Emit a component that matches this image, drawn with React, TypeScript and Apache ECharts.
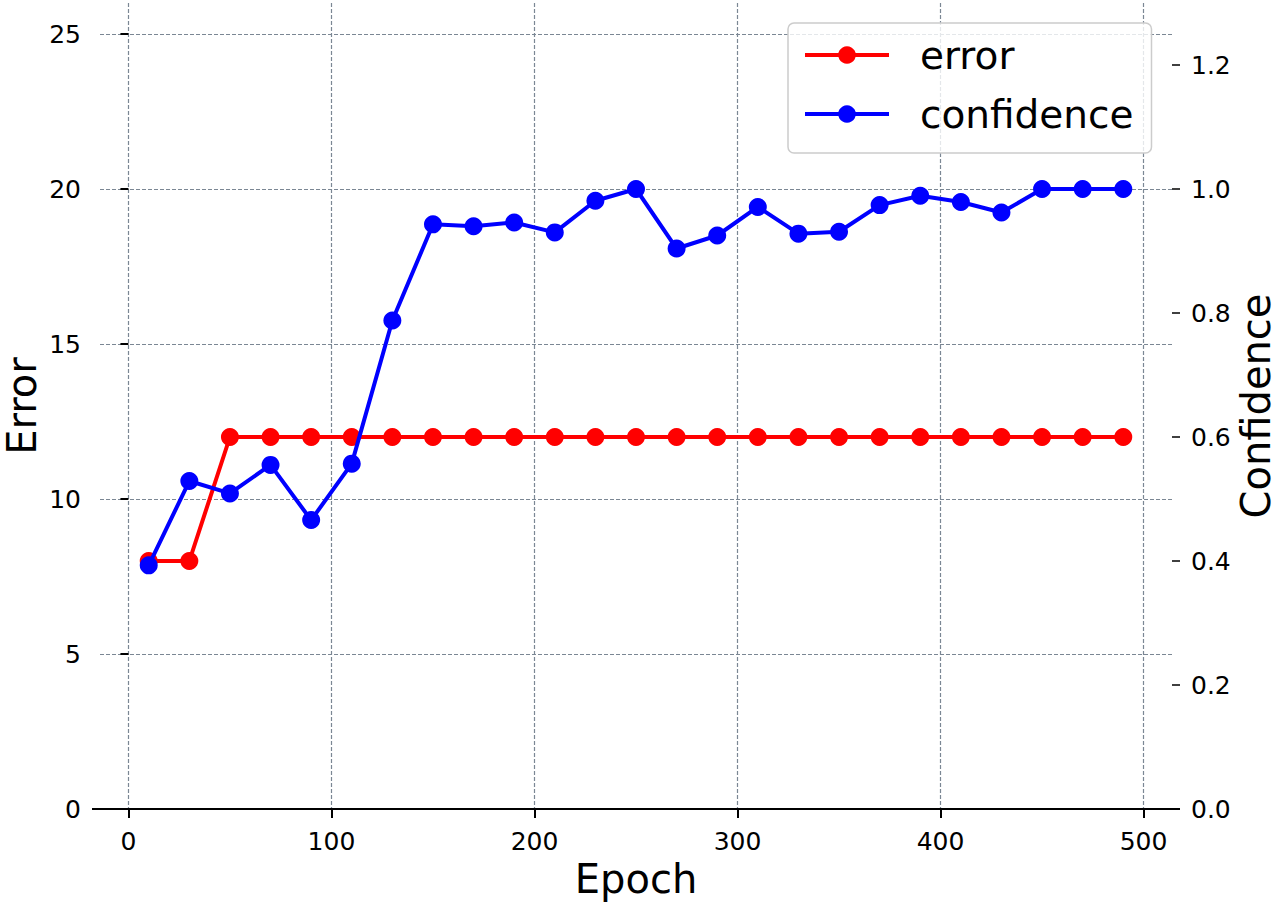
import React, { useEffect, useRef } from "react";
import * as echarts from "echarts";

const epochs = [10, 30, 50, 70, 90, 110, 130, 150, 170, 190, 210, 230, 250, 270, 290, 310, 330, 350, 370, 390, 410, 430, 450, 470, 490];
const errorValues = [8, 8, 12, 12, 12, 12, 12, 12, 12, 12, 12, 12, 12, 12, 12, 12, 12, 12, 12, 12, 12, 12, 12, 12, 12];
const confidenceValues = [0.393, 0.529, 0.509, 0.555, 0.466, 0.557, 0.788, 0.943, 0.940, 0.946, 0.930, 0.981, 1.0, 0.904, 0.925, 0.971, 0.928, 0.931, 0.974, 0.989, 0.979, 0.962, 1.0, 1.0, 1.0];
const xTicks = [0, 100, 200, 300, 400, 500];
const errorTicks = [0, 5, 10, 15, 20, 25];
const confidenceTicks = [0, 0.2, 0.4, 0.6, 0.8, 1.0, 1.2];

const FONT = "DejaVu Sans";
const GRID_COLOR = "#7b8794";

export default function App() {
  const ref = useRef<HTMLDivElement>(null);
  useEffect(() => {
    if (!ref.current) return;
    const chart = echarts.init(ref.current, undefined, { renderer: "svg" });
    const errorData = epochs.map((e, i) => [e, errorValues[i]]);
    const confData = epochs.map((e, i) => [e, confidenceValues[i]]);
    chart.setOption({
      animation: false,
      backgroundColor: "#ffffff",
      textStyle: { fontFamily: FONT },
      grid: { left: 100, right: 108, top: 3, bottom: 99, containLabel: false, outerBoundsMode: "none" },
      legend: {
        orient: "vertical",
        left: 788,
        top: 23,
        padding: [12, 18, 19, 15],
        itemWidth: 84,
        itemHeight: 22,
        itemGap: 19,
        backgroundColor: "rgba(255,255,255,0.8)",
        borderColor: "#cccccc",
        borderWidth: 1.5,
        borderRadius: 6,
        lineStyle: { width: 4 },
        textStyle: { fontSize: 39, fontFamily: FONT, color: "#000", padding: [0, 0, 0, 26], lineHeight: 40 },
        data: ["error", "confidence"],
      },
      xAxis: {
        type: "value",
        min: -14,
        max: 514,
        splitNumber: 5,
        name: "Epoch",
        nameLocation: "middle",
        nameGap: 50,
        nameTextStyle: { fontSize: 40, fontFamily: FONT, color: "#000" },
        axisLine: { show: true, lineStyle: { color: "#000", width: 2 } },
        axisTick: { show: true, inside: false, length: 9, lineStyle: { color: "#000", width: 2 }, customValues: xTicks },
        axisLabel: { fontSize: 25, fontFamily: FONT, color: "#000", margin: 20, customValues: xTicks },
        splitLine: { show: true, lineStyle: { color: GRID_COLOR, width: 1.2, type: [4, 2] } },
      },
      yAxis: [
        {
          type: "value",
          min: 0,
          max: 26,
          interval: 5,
          name: "Error",
          nameLocation: "middle",
          nameGap: 58,
          nameRotate: 90,
          nameMoveOverlap: false,
          nameTextStyle: { fontSize: 40, fontFamily: FONT, color: "#000" },
          axisLine: { show: false },
          axisTick: { show: true, inside: false, length: 8, lineStyle: { color: "#000", width: 2 }, customValues: errorTicks },
          axisLabel: { fontSize: 25, fontFamily: FONT, color: "#000", margin: 19, customValues: errorTicks },
          splitLine: { show: true, lineStyle: { color: GRID_COLOR, width: 1.2, type: [4, 2] } },
        },
        {
          type: "value",
          position: "right",
          min: 0,
          max: 1.3,
          interval: 0.2,
          name: "Confidence",
          nameLocation: "middle",
          nameGap: 64,
          nameRotate: 90,
          nameMoveOverlap: false,
          nameTextStyle: { fontSize: 40, fontFamily: FONT, color: "#000" },
          axisLine: { show: false },
          axisTick: { show: true, inside: false, length: 8, lineStyle: { color: "#000", width: 1.5 }, customValues: confidenceTicks },
          axisLabel: {
            fontSize: 25,
            fontFamily: FONT,
            color: "#000",
            margin: 19,
            customValues: confidenceTicks,
            formatter: (v: number) => v.toFixed(1),
          },
          splitLine: { show: false },
        },
      ],
      graphic: [
        {
          type: "line",
          z: 100,
          shape: { x1: 92, y1: 809, x2: 1180, y2: 809 },
          style: { stroke: "#000", lineWidth: 2 },
        },
      ],
      series: [
        {
          name: "error",
          type: "line",
          yAxisIndex: 0,
          data: errorData,
          symbol: "circle",
          symbolSize: 18,
          showSymbol: true,
          lineStyle: { color: "#ff0000", width: 4 },
          itemStyle: { color: "#ff0000" },
          z: 3,
        },
        {
          name: "confidence",
          type: "line",
          yAxisIndex: 1,
          data: confData,
          symbol: "circle",
          symbolSize: 18,
          showSymbol: true,
          lineStyle: { color: "#0000ff", width: 4 },
          itemStyle: { color: "#0000ff" },
          z: 4,
        },
      ],
    });
    return () => chart.dispose();
  }, []);
  return <div ref={ref} style={{ position: "absolute", left: 0, top: 0, width: 1280, height: 908 }} />;
}
